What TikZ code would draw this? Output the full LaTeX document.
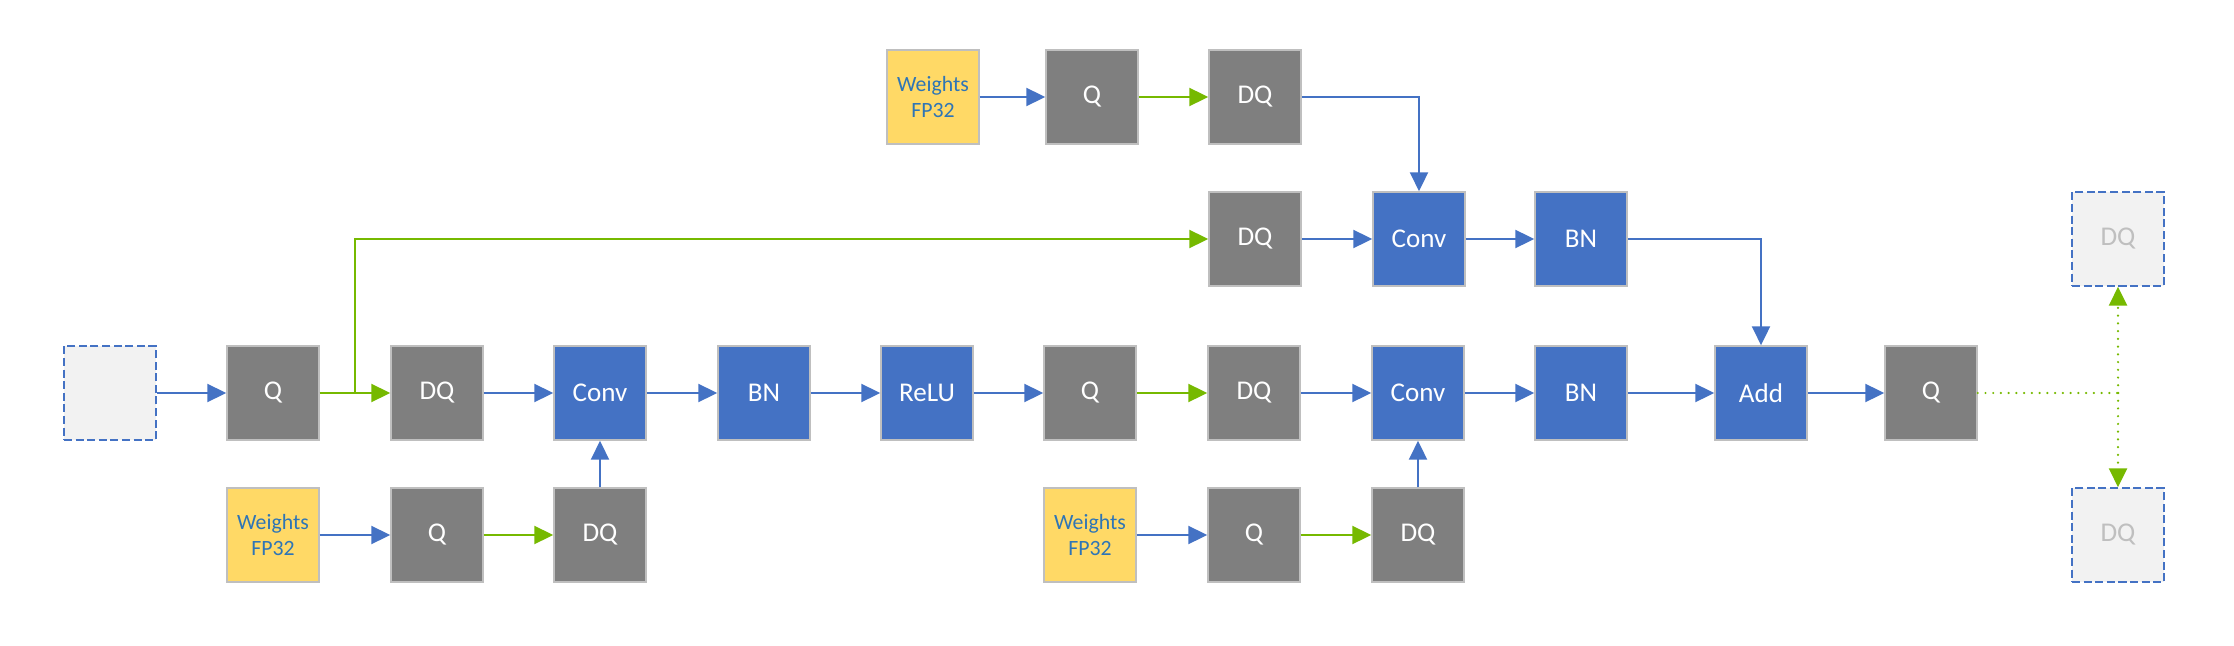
\documentclass[tikz,border=0pt]{standalone}
\usepackage{fontspec}
\setmainfont{Carlito}
\usetikzlibrary{arrows.meta}
\definecolor{opgray}{HTML}{7F7F7F}
\definecolor{opblue}{HTML}{4472C4}
\definecolor{wyellow}{HTML}{FFD966}
\definecolor{wtext}{HTML}{2E75B6}
\definecolor{qgreen}{HTML}{76B900}
\definecolor{ghostfill}{HTML}{F2F2F2}
\definecolor{ghosttext}{HTML}{BFBFBF}
\tikzset{
  box/.style={minimum width=0.92cm, minimum height=0.94cm, inner sep=0pt,
    draw=ghosttext, line width=0.4pt, font=\fontsize{7.7}{9}\selectfont},
  qdq/.style={box, fill=opgray, text=white},
  layer/.style={box, fill=opblue, text=white},
  weights/.style={box, fill=wyellow, text=wtext, align=center,
    font=\fontsize{6.2}{7.4}\selectfont},
  ghost/.style={box, fill=ghostfill, text=ghosttext, draw=opblue,
    dash pattern=on 2.3pt off 1pt},
  barrow/.style={draw=opblue, line width=0.6pt,
    -{Triangle[length=0.19cm,width=0.18cm]}},
  garrow/.style={barrow, draw=qgreen},
  gdot/.style={draw=qgreen, line width=0.7pt, line cap=round,
    dash pattern=on 0pt off 2.2pt}
}
\begin{document}
\begin{tikzpicture}[x=0.01cm, y=0.01cm]
\useasboundingbox (0,0) rectangle (2234,645);
% main row
\node[ghost] (in) at (110,252) {};
\node[qdq] (q1) at (273,252) {Q};
\node[qdq] (dq1) at (437,252) {DQ};
\node[layer] (conv1) at (600,252) {Conv};
\node[layer] (bn1) at (764,252) {BN};
\node[layer] (relu) at (927,252) {ReLU};
\node[qdq] (q2) at (1090,252) {Q};
\node[qdq] (dq2) at (1254,252) {DQ};
\node[layer] (conv2) at (1418,252) {Conv};
\node[layer] (bn2) at (1581,252) {BN};
\node[layer] (add) at (1761,252) {Add};
\node[qdq] (q3) at (1931,252) {Q};
\node[ghost] (dqa) at (2118,406) {DQ};
\node[ghost] (dqb) at (2118,110) {DQ};
% weights of the first conv
\node[weights] (wb1) at (273,110) {Weights\\FP32};
\node[qdq] (qb1) at (437,110) {Q};
\node[qdq] (dqb1) at (600,110) {DQ};
% weights of the second conv
\node[weights] (wb2) at (1090,110) {Weights\\FP32};
\node[qdq] (qb2) at (1254,110) {Q};
\node[qdq] (dqb2) at (1418,110) {DQ};
% shortcut branch
\node[weights] (wt) at (933,548) {Weights\\FP32};
\node[qdq] (qt) at (1092,548) {Q};
\node[qdq] (dqt) at (1255,548) {DQ};
\node[qdq] (dqs) at (1255,406) {DQ};
\node[layer] (convs) at (1419,406) {Conv};
\node[layer] (bns) at (1581,406) {BN};
\coordinate (split) at (355,252);
\coordinate (fork) at (2118,252);

\draw[barrow] (in) -- (q1);
\draw[garrow] (q1) -- (dq1);
\draw[garrow] (split) |- (dqs);
\draw[barrow] (dq1) -- (conv1);
\draw[barrow] (conv1) -- (bn1);
\draw[barrow] (bn1) -- (relu);
\draw[barrow] (relu) -- (q2);
\draw[garrow] (q2) -- (dq2);
\draw[barrow] (dq2) -- (conv2);
\draw[barrow] (conv2) -- (bn2);
\draw[barrow] (bn2) -- (add);
\draw[barrow] (add) -- (q3);
\draw[gdot] (q3) -- (fork);
\draw[gdot, -{Triangle[length=0.19cm,width=0.18cm]}] (fork) -- (dqa);
\draw[gdot, -{Triangle[length=0.19cm,width=0.18cm]}] (fork) -- (dqb);
\draw[barrow] (wb1) -- (qb1);
\draw[garrow] (qb1) -- (dqb1);
\draw[barrow] (dqb1) -- (conv1);
\draw[barrow] (wb2) -- (qb2);
\draw[garrow] (qb2) -- (dqb2);
\draw[barrow] (dqb2) -- (conv2);
\draw[barrow] (wt) -- (qt);
\draw[garrow] (qt) -- (dqt);
\draw[barrow] (dqt) -| (convs);
\draw[barrow] (dqs) -- (convs);
\draw[barrow] (convs) -- (bns);
\draw[barrow] (bns) -| (add);
\end{tikzpicture}
\end{document}
